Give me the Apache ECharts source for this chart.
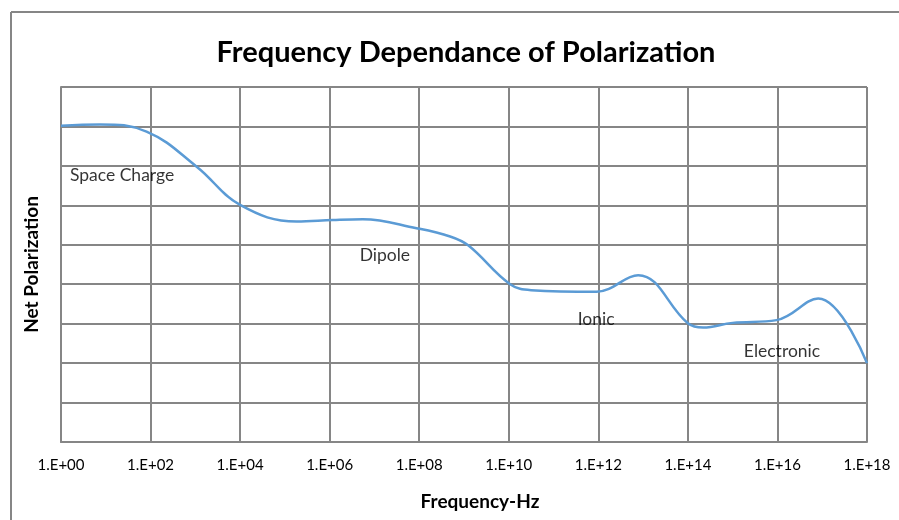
<!DOCTYPE html>
<html>
<head>
<meta charset="utf-8">
<script src="https://cdn.jsdelivr.net/npm/echarts@6/dist/echarts.min.js"></script>
<style>
    html, body { margin: 0; padding: 0; background: #fff; }
    #chart { width: 899px; height: 520px; }
</style>
</head>
<body>
<div id="chart"></div>
<script>
// frequency as log10 exponent, polarization in grid units
const freqExp = [0, 0.87, 1.91, 3.03, 4.0, 5.26, 6.07, 6.74, 7.94, 8.69, 9.1, 10.03, 10.5, 11.96, 12.89, 14.0, 14.34, 15.0, 15.98, 16.91, 18];
const netPol = [8.02, 8.05, 7.87, 6.98, 6.01, 5.59, 5.63, 5.65, 5.42, 5.21, 4.98, 4.0, 3.85, 3.81, 4.23, 3.01, 2.9, 3.02, 3.09, 3.64, 2.0];

const xTicks = [0, 2, 4, 6, 8, 10, 12, 14, 16, 18];

const regionNames = ['Space Charge', 'Dipole', 'Ionic', 'Electronic'];
const regionX = [0.2, 6.67, 11.54, 15.25];
const regionY = [6.77, 4.72, 3.12, 2.31];

const chart = echarts.init(document.getElementById('chart'));
const gridColor = '#868686';

const option = {
    animation: false,
    title: {
        text: 'Frequency Dependance of Polarization',
        left: 461,
        top: 33,
        textAlign: 'center',
        textStyle: { fontFamily: 'Lato', fontWeight: 'bold', fontSize: 29, color: '#000' }
    },
    graphic: [
        { type: 'line', shape: { x1: 11, y1: 12, x2: 899, y2: 12 }, style: { stroke: gridColor, lineWidth: 2 } },
        { type: 'line', shape: { x1: 11, y1: 12, x2: 11, y2: 520 }, style: { stroke: gridColor, lineWidth: 2 } }
    ],
    grid: { left: 61, right: 32, top: 87, bottom: 78 },
    xAxis: {
        type: 'value',
        min: 0,
        max: 18,
        interval: 2,
        name: 'Frequency-Hz',
        nameLocation: 'middle',
        nameGap: 50,
        nameTextStyle: { fontFamily: 'Lato', fontWeight: 'bold', fontSize: 19, color: '#000', padding: [0, 0, 0, 32] },
        axisLine: { lineStyle: { color: gridColor, width: 2 } },
        axisTick: { show: false },
        axisLabel: {
            margin: 16,
            fontFamily: 'Lato',
            fontSize: 15,
            color: '#000',
            formatter: v => xTicks.includes(v) ? '1.E+' + String(v).padStart(2, '0') : ''
        },
        splitLine: { show: true, lineStyle: { color: gridColor, width: 2 } }
    },
    yAxis: {
        type: 'value',
        min: 0,
        max: 9,
        interval: 1,
        name: 'Net Polarization',
        nameLocation: 'middle',
        nameGap: 20,
        nameTextStyle: { fontFamily: 'Lato', fontWeight: 'bold', fontSize: 19, color: '#000' },
        axisLine: { show: true, lineStyle: { color: gridColor, width: 2 } },
        axisTick: { show: false },
        axisLabel: { show: false },
        splitLine: { show: true, lineStyle: { color: gridColor, width: 2 } }
    },
    series: [
        {
            type: 'line',
            data: freqExp.map((x, i) => [x, netPol[i]]),
            smooth: 0.4,
            showSymbol: false,
            lineStyle: { color: '#5b9bd5', width: 2.5 },
            z: 3
        },
        {
            type: 'scatter',
            data: regionNames.map((n, i) => ({ value: [regionX[i], regionY[i]], name: n })),
            symbolSize: 0,
            label: {
                show: true,
                position: 'right',
                distance: 0,
                formatter: p => p.name,
                fontFamily: 'Lato',
                fontSize: 17.5,
                color: '#000'
            },
            z: 4
        }
    ]
};

chart.setOption(option);
</script>
</body>
</html>
